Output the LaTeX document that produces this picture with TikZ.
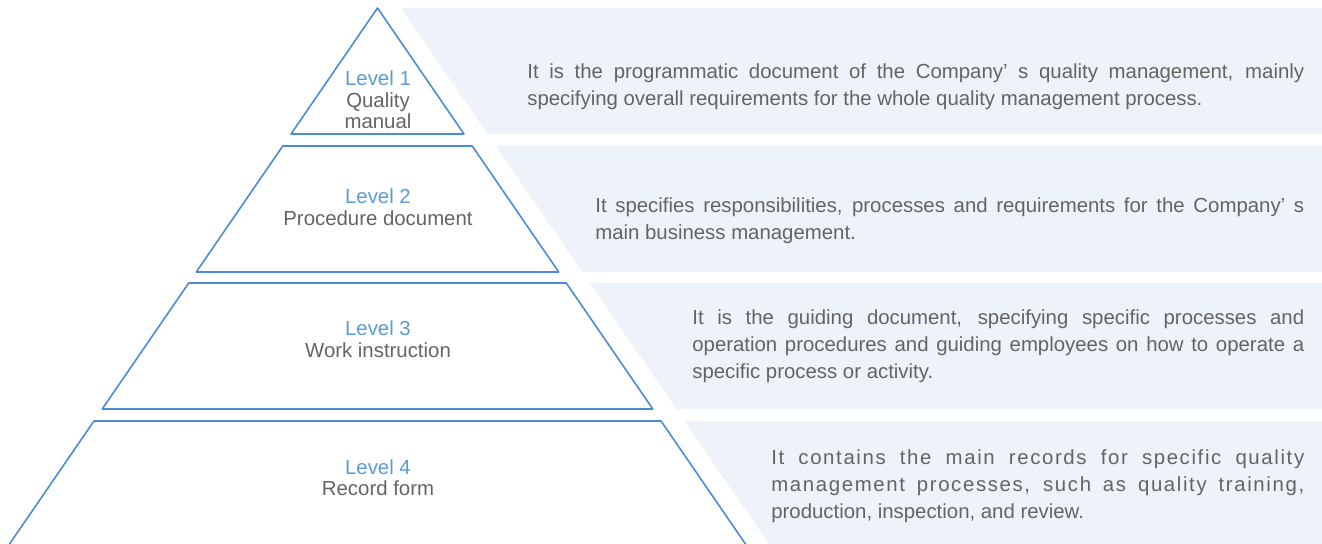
\documentclass[tikz,border=0pt]{standalone}
\usepackage{fontspec}
\setmainfont{Liberation Sans}
\definecolor{pyrblue}{HTML}{4A8BD4}
\definecolor{lvlblue}{HTML}{5B9BD5}
\definecolor{txtgray}{HTML}{646464}
\definecolor{panelfill}{HTML}{EEF3FA}
\newcommand{\lvl}[1]{\textcolor{lvlblue}{Level #1}}
\tolerance=10000
\hyphenpenalty=10000

\begin{document}
\begin{tikzpicture}[x=0.02cm,y=-0.02cm,
    lvltext/.style={align=center,inner sep=0pt,text=txtgray,
      font=\fontsize{11.6}{12.2}\selectfont},
    desctext/.style={anchor=west,align=justify,inner sep=0pt,text=txtgray,
      font=\fontsize{11.6}{15.4}\selectfont}]
  \useasboundingbox (0,0) rectangle (1322,544);
  \clip (0,0) rectangle (1322,544);
   \coordinate (Apex) at (377.5,8);
   \coordinate (Edge) at (1322,0);
  \foreach \t/\b in {8/134,146/272,283/409,421/560}{% top and bottom of each level
    \pgfmathsetmacro\wt{0.6865*(\t-8)}
    \pgfmathsetmacro\wb{0.6865*(\b-8)}
    \fill[panelfill] (377.5+\wt+23.5,\t) -- (Edge|-0,\t) -- (Edge|-0,\b)
          -- (377.5+\wb+23.5,\b) -- cycle;
    \draw[pyrblue,line width=0.9pt,line join=round]
          (377.5-\wt,\t) -- (377.5+\wt,\t) -- (377.5+\wb,\b) -- (377.5-\wb,\b) -- cycle;
    }
  \node[lvltext] (lvlone) at (378,100) {\lvl{1}\\Quality\\manual};
  \node[lvltext] (lvltwo) at (378,207) {\lvl{2}\\Procedure document};
  \node[lvltext] (lvlthree) at (378,339) {\lvl{3}\\Work instruction};
  \node[lvltext] (lvlfour) at (378,477.5) {\lvl{4}\\Record form};
% right hand texts
  \node[desctext,text width=15.54cm] (descone) at (527,86.5)
    {It is the programmatic document of the Company’ s quality management, mainly\linebreak
     specifying overall requirements for the whole quality management process.};
  \node[desctext,text width=14.18cm] (desctwo) at (595,220.5)
    {It specifies responsibilities, processes and requirements for the Company’ s\linebreak
     main business management.};
  \node[desctext,text width=12.24cm] (descthree) at (692,346)
    {It is the guiding document, specifying specific processes and\linebreak
     operation procedures and guiding employees on how to operate a\linebreak
     specific process or activity.};
  \node[desctext,text width=10.66cm] (descfour) at (771,486)
    {{\addfontfeature{LetterSpace=8}It contains the main records for specific quality\linebreak
     management processes, such as quality training,}\linebreak
     production, inspection, and review.};
 \end{tikzpicture}
\end{document}
